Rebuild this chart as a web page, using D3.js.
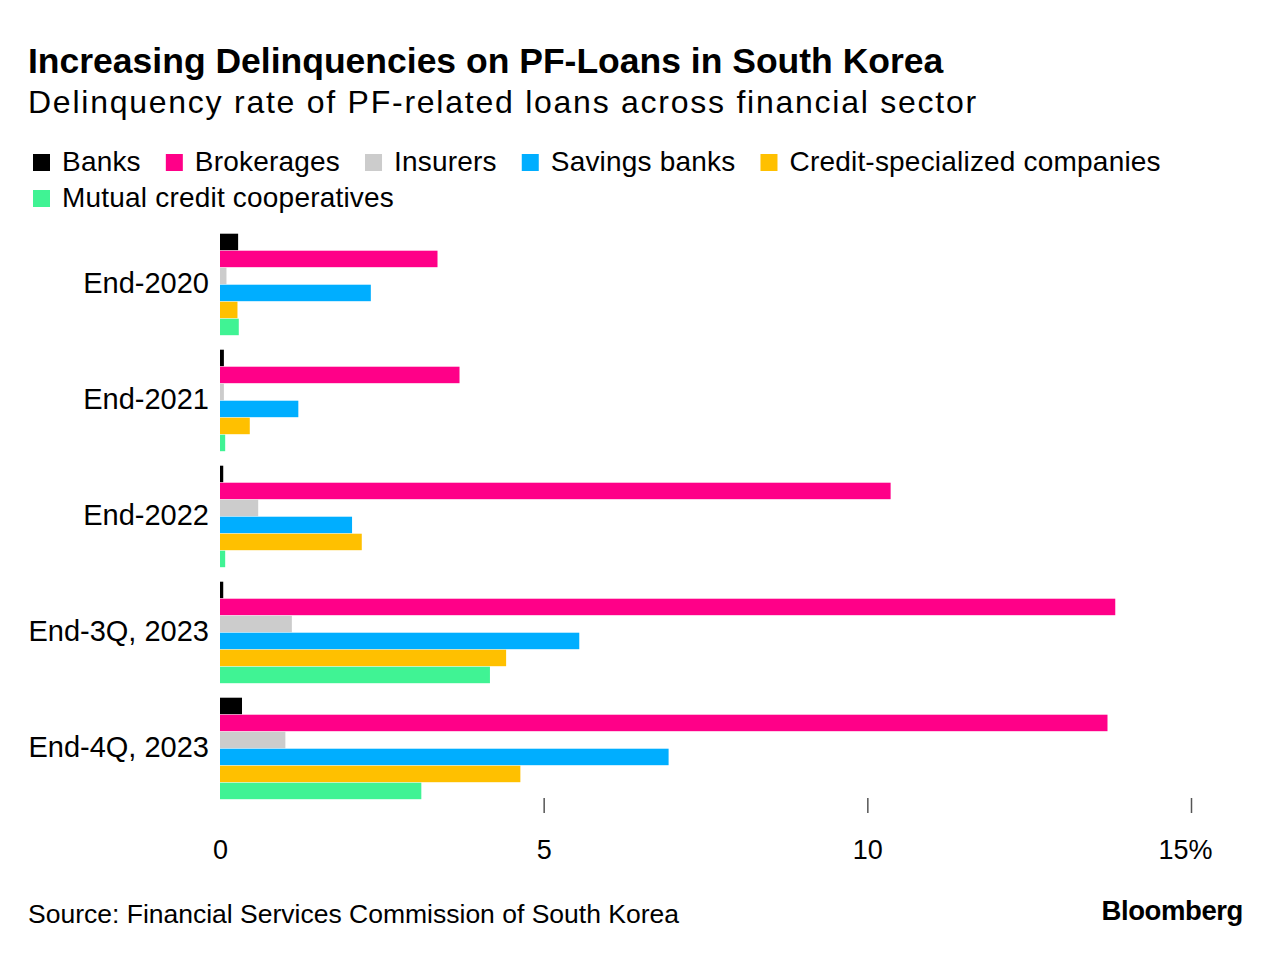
<!DOCTYPE html>
<html>
<head>
<meta charset="utf-8">
<script src="https://cdn.jsdelivr.net/npm/d3@7/dist/d3.min.js"></script>
<style>
  body { margin: 0; background: #fff; }
  text { font-family: "Liberation Sans", Arial, sans-serif; fill: #000; }
</style>
</head>
<body>
<svg id="chart"></svg>
<script>
// data
const periods = ["End-2020", "End-2021", "End-2022", "End-3Q, 2023", "End-4Q, 2023"];
const sectors = ["Banks", "Brokerages", "Insurers", "Savings banks", "Credit-specialized companies", "Mutual credit cooperatives"];
const colors = ["#000000", "#ff0088", "#cccccc", "#00aeff", "#ffc000", "#40f394"];

const banks = [0.28, 0.06, 0.05, 0.05, 0.34];
const brokerages = [3.36, 3.70, 10.36, 13.83, 13.71];
const insurers = [0.10, 0.06, 0.59, 1.11, 1.01];
const savingsBanks = [2.33, 1.21, 2.04, 5.55, 6.93];
const creditCos = [0.27, 0.46, 2.19, 4.42, 4.64];
const mutualCoops = [0.29, 0.08, 0.08, 4.17, 3.11];
const xTicks = [0, 5, 10, 15];

const seriesValues = [banks, brokerages, insurers, savingsBanks, creditCos, mutualCoops];

const W = 1282, H = 956;
const svg = d3.select("#chart").attr("width", W).attr("height", H);

// titles
svg.append("text").attr("x", 28).attr("y", 73)
  .style("font-size", "35.5px").style("font-weight", "bold")
  .text("Increasing Delinquencies on PF-Loans in South Korea");
svg.append("text").attr("x", 28).attr("y", 113)
  .style("font-size", "32px").style("letter-spacing", "1.75px")
  .text("Delinquency rate of PF-related loans across financial sector");

// legend, flowed in rows
const legend = svg.append("g");
let lx = 33, ly = 154;
sectors.forEach((s, i) => {
  const item = legend.append("g");
  item.append("rect").attr("width", 17).attr("height", 17).attr("fill", colors[i]);
  const t = item.append("text").attr("x", 29).attr("y", 17)
    .style("font-size", "28px").style("letter-spacing", "0.2px").text(s);
  const w = 29 + t.node().getComputedTextLength();
  if (lx + w > 1240) { lx = 33; ly += 36; }
  item.attr("transform", `translate(${lx},${ly})`);
  lx += w + 25;
});

// scales
const x = d3.scaleLinear().domain([0, 15]).range([220, 1191]);
const y0 = d3.scaleBand().domain(periods).range([233.7, 799.2]).paddingInner(0.125);
const y1 = d3.scaleBand().domain(sectors).range([0, y0.bandwidth()]).paddingInner(0.03);

const groups = svg.append("g").selectAll("g")
  .data(periods)
  .join("g")
  .attr("transform", d => `translate(0,${y0(d)})`);

groups.selectAll("rect")
  .data((p, pi) => sectors.map((s, si) => ({ s, v: seriesValues[si][pi], c: colors[si] })))
  .join("rect")
  .attr("x", x(0))
  .attr("y", d => y1(d.s))
  .attr("width", d => x(d.v) - x(0))
  .attr("height", y1.bandwidth())
  .attr("fill", d => d.c);

// category labels
svg.append("g").selectAll("text")
  .data(periods)
  .join("text")
  .attr("x", 209)
  .attr("y", d => y0(d) + y0.bandwidth() / 2 + 9)
  .attr("text-anchor", "end")
  .style("font-size", "29px")
  .text(d => d);

// x axis
const xAxis = d3.axisBottom(x)
  .tickValues(xTicks)
  .tickSize(15)
  .tickPadding(27)
  .tickFormat(d => d === 15 ? d + "%" : d);

const ax = svg.append("g")
  .attr("transform", `translate(0,798)`)
  .call(xAxis);
ax.select(".domain").remove();
ax.selectAll(".tick line").attr("stroke", "#555").attr("stroke-width", 1.5)
  .filter(d => d === 0).remove();
ax.selectAll(".tick text")
  .style("font-size", "27px")
  .style("font-family", "'Liberation Sans', Arial, sans-serif")
  .attr("fill", "#000")
  .attr("dx", d => d === 15 ? -6 : 0);

// footer
svg.append("text").attr("x", 28).attr("y", 923)
  .style("font-size", "26.5px")
  .text("Source: Financial Services Commission of South Korea");
svg.append("text").attr("x", 1243).attr("y", 920)
  .attr("text-anchor", "end")
  .style("font-size", "27.5px").style("font-weight", "bold").style("letter-spacing", "-0.4px")
  .text("Bloomberg");
</script>
</body>
</html>
